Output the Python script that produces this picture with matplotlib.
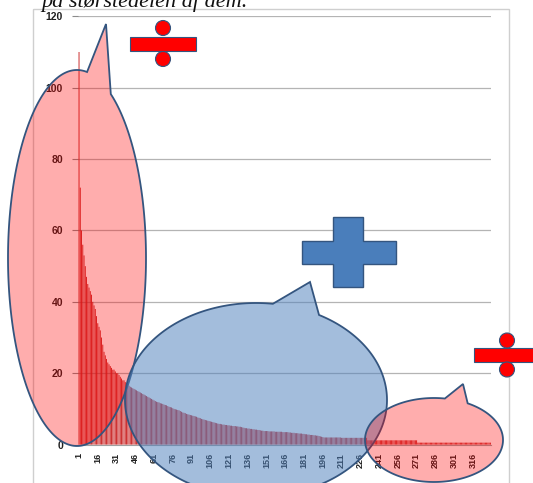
import numpy as np
import matplotlib
matplotlib.use("Agg")
import matplotlib.pyplot as plt
from matplotlib.patches import Polygon, Rectangle, Circle

# ---------------- data ----------------
values = [
    110, 72, 60, 56, 53, 50, 47, 45, 44, 43,
    42, 40, 39, 38, 36, 34, 33, 32, 30, 28,
    26, 25, 24, 23, 22.5, 22, 21.5, 21, 21, 20.5,
    20, 20, 19.5, 19, 18.5, 18, 18, 17.5, 17, 17,
    16.5, 16.2, 16, 15.8, 15.6, 15.4, 15.2, 15, 14.8, 14.6,
    14.4, 14.2, 14, 13.8, 13.6, 13.4, 13.2, 13, 12.8, 12.6,
    12.4, 12.2, 12, 11.9, 11.8, 11.6, 11.5, 11.4, 11.2, 11.1,
    11, 10.8, 10.6, 10.5, 10.4, 10.2, 10, 9.9, 9.8, 9.7,
    9.6, 9.4, 9.2, 9, 8.9, 8.8, 8.6, 8.5, 8.4, 8.3,
    8.2, 8.1, 8, 7.9, 7.8, 7.6, 7.5, 7.4, 7.2, 7.1,
    7, 6.9, 6.8, 6.7, 6.6, 6.5, 6.4, 6.3, 6.2, 6.1,
    6, 5.9, 5.8, 5.8, 5.7, 5.6, 5.6, 5.5, 5.5, 5.4,
    5.4, 5.3, 5.3, 5.2, 5.2, 5.2, 5.1, 5.1, 5, 5,
    4.9, 4.8, 4.7, 4.6, 4.6, 4.5, 4.5, 4.4, 4.4, 4.3,
    4.3, 4.2, 4.2, 4.1, 4.1, 4, 3.9, 3.9, 3.8, 3.8,
    3.8, 3.8, 3.7, 3.7, 3.7, 3.7, 3.7, 3.6, 3.6, 3.6,
    3.6, 3.6, 3.6, 3.5, 3.5, 3.5, 3.5, 3.5, 3.4, 3.4,
    3.3, 3.3, 3.3, 3.2, 3.2, 3.2, 3.1, 3.1, 3.1, 3.0,
    3.0, 2.9, 2.9, 2.8, 2.8, 2.7, 2.7, 2.7, 2.6, 2.6,
    2.5, 2.5, 2.4, 2.3, 2.2, 2.1, 2.0, 2.0, 2.0, 2.0,
    2.0, 2.0, 2.0, 2.0, 2.0, 2.0, 2.0, 2.0, 2.0, 2.0,
    1.9, 1.9, 1.9, 1.9, 1.9, 1.9, 1.9, 1.9, 1.9, 1.9,
    1.9, 1.9, 1.9, 1.9, 1.9, 1.9, 1.9, 1.9, 1.9, 1.9, 1.9,
    1.2, 1.2, 1.2, 1.2, 1.2, 1.2, 1.2, 1.2, 1.2, 1.2,
    1.2, 1.2, 1.2, 1.2, 1.2, 1.2, 1.2, 1.2, 1.2, 1.2,
    1.2, 1.2, 1.2, 1.2, 1.2, 1.2, 1.2, 1.2, 1.2, 1.2,
    1.2, 1.2, 1.2, 1.2, 1.2, 1.2, 1.2, 1.2, 1.2, 1.2,
    0.55, 0.55, 0.55, 0.55, 0.55, 0.55, 0.55, 0.55, 0.55, 0.55,
    0.55, 0.55, 0.55, 0.55, 0.55, 0.55, 0.55, 0.55, 0.55, 0.55,
    0.55, 0.55, 0.55, 0.55, 0.55, 0.55, 0.55, 0.55, 0.55, 0.55,
    0.55, 0.55, 0.55, 0.55, 0.55, 0.55, 0.55, 0.55, 0.55, 0.55,
    0.55, 0.55, 0.55, 0.55, 0.55, 0.55, 0.55, 0.55, 0.55, 0.55,
    0.55, 0.55, 0.55, 0.55, 0.55, 0.55, 0.55, 0.55, 0.55,
]
categories = list(range(1, len(values) + 1))
x_tick_labels = ["1", "16", "31", "46", "61", "76", "91", "106", "121", "136",
                 "151", "166", "181", "196", "211", "226", "241", "256", "271",
                 "286", "301", "316"]
y_ticks = [0, 20, 40, 60, 80, 100, 120]
top_text = "på størstedelen af dem."

W, H = 533, 483
fig = plt.figure(figsize=(W / 100, H / 100), dpi=100)
fig.patch.set_facecolor("white")

# ---------------- main chart ----------------
L, R, T, B = 78.4, 491.0, 16.3, 444.6
ax = fig.add_axes([L / W, 1 - B / H, (R - L) / W, (B - T) / H])
ax.bar(categories, values, width=0.72, color="#C81E1E", linewidth=0,
       zorder=3, snap=False)
ax.set_xlim(0.5, len(values) + 0.5)
ax.set_ylim(0, 120)
ax.set_yticks(y_ticks)
ax.set_yticklabels([str(v) for v in y_ticks], fontsize=7.5, fontweight="bold",
                   family="Liberation Sans", color="#202020")
ax.set_xticks([int(s) for s in x_tick_labels])
ax.set_xticklabels(x_tick_labels, rotation=90, fontsize=6.5, fontweight="bold",
                   family="Liberation Sans", color="#202020")
ax.tick_params(axis="y", length=4, width=0.8, color="#8C8C8C", pad=7)
ax.tick_params(axis="x", length=0, pad=6)
ax.grid(axis="y", color="#B4B4B4", linewidth=0.9, zorder=0)
ax.set_axisbelow(True)
for s in ["top", "right", "left"]:
    ax.spines[s].set_visible(False)
ax.spines["bottom"].set_color("#A0A0A0")
ax.spines["bottom"].set_linewidth(0.8)

# ---------------- overlay (pixel space) ----------------
ov = fig.add_axes([0, 0, 1, 1])
ov.set_xlim(0, W)
ov.set_ylim(H, 0)
ov.axis("off")
ov.set_zorder(5)
ov.patch.set_alpha(0)

# chart frame
ov.add_patch(Rectangle((33, 9), 476, 490, fill=False, edgecolor="#CFCFCF", lw=1.0))

EDGE = "#34557F"


def callout(cx, cy, a, b, base1, tip, base2, face):
    t1 = np.arctan2((base1[1] - cy) / b, (base1[0] - cx) / a)
    t2 = np.arctan2((base2[1] - cy) / b, (base2[0] - cx) / a)
    if (t2 - t1) % (2 * np.pi) < np.pi:
        ts, te = t1, t2
    else:
        ts, te = t2, t1
    stop = ts
    while stop <= te:
        stop += 2 * np.pi
    tt = np.linspace(te, stop, 300)
    pts = [(cx + a * np.cos(t), cy + b * np.sin(t)) for t in tt]
    pts.append(tip)
    ov.add_patch(Polygon(pts, closed=True, facecolor=face, edgecolor=EDGE,
                         lw=1.3, joinstyle="miter"))


callout(77, 258, 69, 188, (87, 73), (106, 24), (110, 98), (1.0, 0.0, 0.0, 0.32))
callout(256, 400, 131, 97, (273, 303), (310, 282), (319, 315),
        (0.31, 0.506, 0.741, 0.52))
callout(434, 440, 69, 42, (445, 398), (463, 384), (468, 403), (1.0, 0.0, 0.0, 0.32))


def divide(cx, cy, half_w, half_h, dot_r, dot_off):
    ov.add_patch(Rectangle((cx - half_w, cy - half_h), 2 * half_w, 2 * half_h,
                           facecolor="#FF0000", edgecolor=EDGE, lw=0.8))
    ov.add_patch(Circle((cx, cy - dot_off), dot_r, facecolor="#FF0000",
                        edgecolor=EDGE, lw=0.8))
    ov.add_patch(Circle((cx, cy + dot_off), dot_r, facecolor="#FF0000",
                        edgecolor=EDGE, lw=0.8))


divide(163, 43.5, 33, 7, 7.5, 15.5)
divide(507, 355, 33, 7, 7.5, 14.5)

# plus sign
px0, px1, px2, px3 = 302, 333, 363, 396
py0, py1, py2, py3 = 217, 241, 264, 287
plus = [(px1, py0), (px2, py0), (px2, py1), (px3, py1), (px3, py2), (px2, py2),
        (px2, py3), (px1, py3), (px1, py2), (px0, py2), (px0, py1), (px1, py1)]
ov.add_patch(Polygon(plus, closed=True, facecolor="#4A7EBB", edgecolor=EDGE, lw=1.0))

# cropped text line at top
ov.text(248, 6.5, top_text, ha="right", va="baseline", fontsize=16,
        family="Liberation Serif", style="italic", color="#111111")

fig.savefig("out.png", dpi=100, facecolor="white")
